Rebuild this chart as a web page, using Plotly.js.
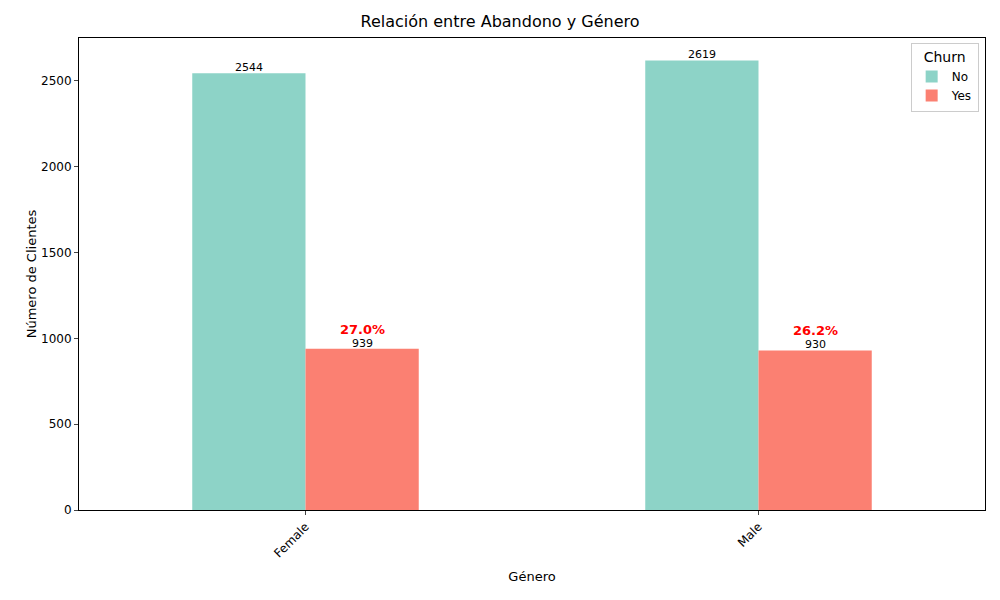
<!DOCTYPE html>
<html>
<head>
<meta charset="utf-8">
<script src="https://cdn.plot.ly/plotly-3.0.1.min.js"></script>
<style>body{margin:0}#chart{width:1000px;height:600px}</style>
</head>
<body>
<div id="chart"></div>
<script>
// Churn counts by gender
const genders = ["Female", "Male"];
const noCounts = [2544, 2619];
const yesCounts = [939, 930];

const font = {family: "DejaVu Sans", color: "#000"};

const traces = [
    {name: "No", x: genders, y: noCounts, type: "bar", marker: {color: "#8dd3c7", line: {width: 0}}},
    {name: "Yes", x: genders, y: yesCounts, type: "bar", marker: {color: "#fb8072", line: {width: 0}}}
];

// count labels sitting on bar tops
const annotations = [];
genders.forEach((g, i) => {
    annotations.push({x: i - 0.125, y: noCounts[i], text: String(noCounts[i]), showarrow: false,
        yanchor: "bottom", yshift: -3, font: {size: 11, color: "#000", family: "DejaVu Sans"}});
    annotations.push({x: i + 0.125, y: yesCounts[i], text: String(yesCounts[i]), showarrow: false,
        yanchor: "bottom", yshift: -3, font: {size: 11, color: "#000", family: "DejaVu Sans"}});
    // churn rate above the Yes bars
    annotations.push({x: i + 0.125, y: yesCounts[i],
        text: "<b>" + (100 * yesCounts[i] / (noCounts[i] + yesCounts[i])).toFixed(1) + "%</b>",
        showarrow: false, yanchor: "bottom", yshift: 10,
        font: {size: 13, color: "red", family: "DejaVu Sans"}});
});

const layout = {
    width: 1000, height: 600,
    margin: {l: 79, r: 15, t: 38, b: 90},
    font: font,
    paper_bgcolor: "#fff", plot_bgcolor: "#fff",
    title: {text: "Relación entre Abandono y Género", font: {size: 16}, y: 0.965, yanchor: "middle"},
    barmode: "group", bargap: 0.5, bargroupgap: 0,
    showlegend: true,
    legend: {title: {text: "Churn", side: "top center"}, x: 0.993, xanchor: "right", y: 0.99, yanchor: "top",
             bordercolor: "#ccc", borderwidth: 1, font: {size: 12}},
    xaxis: {range: [-0.5, 1.5], tickangle: -45, showline: true, mirror: true, linecolor: "#000",
            ticks: "outside", ticklen: 4, tickfont: {size: 12},
            title: {text: "Género", font: {size: 13}, standoff: 12}},
    yaxis: {range: [0, 2750], dtick: 500, showgrid: false, zeroline: false, showline: true, mirror: true,
            linecolor: "#000", ticks: "outside", ticklen: 4, tickfont: {size: 12},
            title: {text: "Número de Clientes", font: {size: 13}}},
    annotations: annotations
};

Plotly.newPlot("chart", traces, layout, {displayModeBar: false});
</script>
</body>
</html>
